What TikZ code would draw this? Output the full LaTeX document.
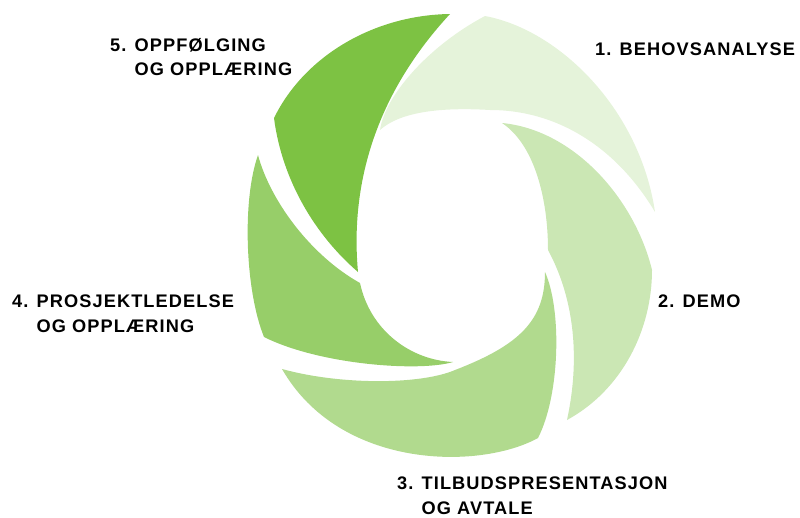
\documentclass[tikz,border=0pt]{standalone}
\usepackage{fontspec}
\newfontfamily\labelfont[LetterSpace=6]{Liberation Sans}
\definecolor{leaf}{HTML}{7DC243}
\begin{document}
\begin{tikzpicture}[x=1pt,y=-1pt,txt/.style={anchor=north west,inner sep=0pt,align=left,font=\labelfont\bfseries\fontsize{18.2}{24.5}\selectfont}]
	\useasboundingbox (0,0) rectangle (800,517);
	% blades, light to dark
	\fill[leaf!20] (485,16) .. controls (560,30) and (640,110) .. (655,212)
		.. controls (615,145) and (555,110) .. (490,110)
		.. controls (440,107) and (400,112) .. (380,130)
		.. controls (385,95) and (430,45) .. (485,16) -- cycle;
	\fill[leaf!40] (652,270) .. controls (652,330) and (622,390) .. (567,420)
		.. controls (580,360) and (575,300) .. (548,250)
		.. controls (548,200) and (535,145) .. (502,123)
		.. controls (575,130) and (635,200) .. (652,270) -- cycle;
	\fill[leaf!60] (538,438) .. controls (480,470) and (340,470) .. (282,369)
		.. controls (340,385) and (420,385) .. (455,370)
		.. controls (520,345) and (545,320) .. (545,272)
		.. controls (562,310) and (560,395) .. (538,438) -- cycle;
	\fill[leaf!80] (264,337) .. controls (245,290) and (242,200) .. (258,155)
		.. controls (270,200) and (310,255) .. (360,283)
		.. controls (370,330) and (410,360) .. (453,362)
		.. controls (420,372) and (320,365) .. (264,337) -- cycle;
	\fill[leaf] (274,118) .. controls (305,55) and (375,15) .. (450,14)
		.. controls (375,95) and (350,185) .. (358,272)
		.. controls (315,235) and (282,180) .. (274,118) -- cycle;
	% labels
	\node[txt] (1) at (595,43) {1. BEHOVSANALYSE};
	\node[txt] (2) at (658,295) {2. DEMO};
	\node[txt] (3) at (397,477) {3. TILBUDSPRESENTASJON\\\phantom{3. }OG AVTALE};
	\node[txt] (4) at (12,295) {4. PROSJEKTLEDELSE\\\phantom{4. }OG OPPLÆRING};
	\node[txt] (5) at (110,38) {5. OPPFØLGING\\\phantom{5. }OG OPPLÆRING};
\end{tikzpicture}
\end{document}
